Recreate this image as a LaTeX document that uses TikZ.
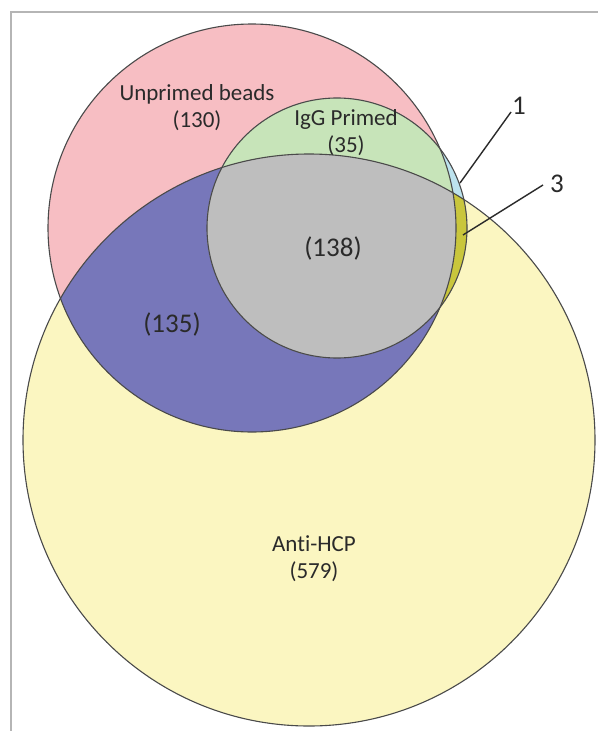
\documentclass[tikz,border=0pt]{standalone}
\usepackage{fontspec}
\setmainfont{Carlito}[Ligatures={NoCommon}]
\definecolor{cpink}{HTML}{F7BEC3}
\definecolor{cgreen}{HTML}{C7E4B9}
\definecolor{cblue}{HTML}{7777BA}
\definecolor{cgrey}{HTML}{BEBEBE}
\definecolor{cyellow}{HTML}{FBF6C1}
\definecolor{clblue}{HTML}{BDE3EE}
\definecolor{colive}{HTML}{C9C63C}
\definecolor{cline}{HTML}{4A4A4A}
\definecolor{ctext}{HTML}{2A2A2A}
\definecolor{cframe}{HTML}{B5B5B5}
\tikzset{
  setlabel/.style={align=center, text=ctext, font=\fontsize{23}{27}\selectfont, inner sep=0pt},
  countlabel/.style={text=ctext, font=\fontsize{27}{30}\selectfont, inner sep=0pt},
  outline/.style={draw=cline, line width=1.1pt},
  leader/.style={draw=ctext, line width=1.4pt},
  framestyle/.style={draw=cframe, line width=1.5pt}
}
\begin{document}
\begin{tikzpicture}[x=1pt,y=-1pt]
\useasboundingbox (0,0) rectangle (598,731);
\fill[white] (0,0) rectangle (598,731);
% frame
\draw[framestyle] (11,731) -- (11,12) -- (598,12);
% circle centres
\coordinate (P) at (252,228);
\coordinate (Y) at (309,440);
\coordinate (G) at (337,228);
\def\rP{204pt}\def\rY{286pt}\def\rG{130pt}
% fills
\fill[cyellow] (Y) circle[radius=\rY];
\fill[cpink] (P) circle[radius=\rP];
\begin{scope}
  \clip (Y) circle[radius=\rY];
  \fill[cblue] (P) circle[radius=\rP];
\end{scope}
\fill[clblue] (G) circle[radius=\rG];
\begin{scope}
  \clip (G) circle[radius=\rG];
  \fill[cgreen] (P) circle[radius=\rP];
  \fill[colive] (Y) circle[radius=\rY];
  \clip (P) circle[radius=\rP];
  \fill[cgrey] (Y) circle[radius=\rY];
\end{scope}
% outlines
\draw[outline] (Y) circle[radius=\rY];
\draw[outline] (P) circle[radius=\rP];
\draw[outline] (G) circle[radius=\rG];
% labels
\node[setlabel] (unprimed) at (197,108) {Unprimed beads\\(130)};
\node[setlabel] (igg) at (346,133) {IgG Primed\\(35)};
\node[setlabel] (antihcp) at (314,559) {Anti-HCP\\(579)};
\node[countlabel] (all3) at (333,248) {(138)};
\node[countlabel] (py) at (172,324) {(135)};
\node[countlabel, anchor=west] (one) at (512,106) {1};
\node[countlabel, anchor=west] (three) at (550,184) {3};
\coordinate (onetip) at (460,183);
\coordinate (threetip) at (463,235);
\draw[leader] (one.west) ++(-1,6) -- (onetip);
\draw[leader] (three.west) ++(-7,1) -- (threetip);
\end{tikzpicture}
\end{document}
